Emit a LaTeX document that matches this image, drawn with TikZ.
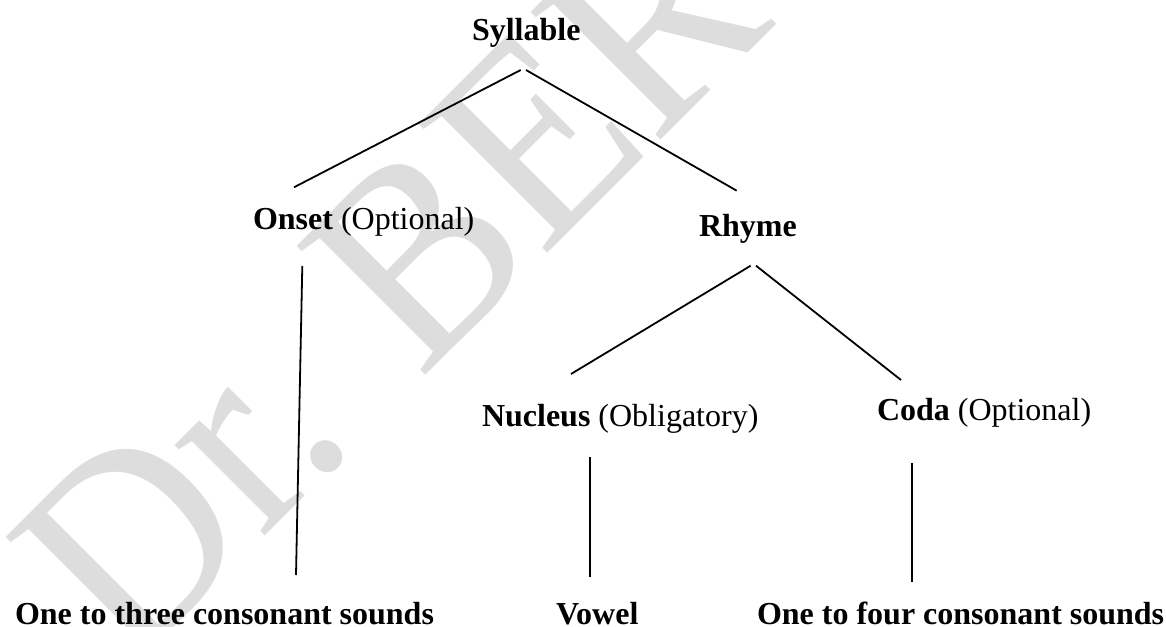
\documentclass[tikz,border=0pt]{standalone}
\usepackage{fontspec}
\setmainfont{Liberation Serif}
\definecolor{wmgray}{RGB}{221,221,221}
\begin{document}
\begin{tikzpicture}[x=1pt,y=1pt,
  label/.style={inner sep=0pt, outer sep=0pt, anchor=base west,
                font=\fontsize{32}{38}\selectfont},
  branch/.style={line width=1.8pt, black},
  watermark/.style={inner sep=0pt, anchor=base west, rotate=45, text=wmgray,
                font=\fontsize{278}{278}\selectfont}]
\useasboundingbox (0,0) rectangle (1166,-626);
\fill[white] (0,0) rectangle (1166,-626);

% background watermark
\node[watermark] (wm) at (129,-672) {\scalebox{0.935}[1]{Dr. BER}};

% tree labels
\node[label] (syl) at (472,-40.5) {\textbf{Syllable}};
\node[label] (ons) at (253,-229.3) {\textbf{Onset} (Optional)};
\node[label] (rhy) at (699,-236) {\textbf{Rhyme}};
\node[label] (nuc) at (482,-426) {\textbf{Nucleus} (Obligatory)};
\node[label] (cod) at (877,-420) {\textbf{Coda} (Optional)};
\node[label] (on3) at (15,-624) {\textbf{One to three consonant sounds}};
\node[label] (vow) at (556,-624) {\textbf{Vowel}};
\node[label] (on4) at (757,-624) {\textbf{One to four consonant sounds}};

% branch end points
\coordinate (syl-l) at (520.7,-70);
\coordinate (syl-r) at (526,-70);
\coordinate (ons-t) at (294,-187.3);
\coordinate (rhy-t) at (736.7,-190.7);
\coordinate (ons-b) at (302.3,-266);
\coordinate (on3-t) at (296,-575);
\coordinate (rhy-l) at (750.7,-265.7);
\coordinate (rhy-r) at (756,-265.7);
\coordinate (nuc-t) at (571,-374);
\coordinate (cod-t) at (901,-380);
\coordinate (nuc-b) at (590,-457);
\coordinate (vow-t) at (590,-577);
\coordinate (cod-b) at (912,-463);
\coordinate (on4-t) at (912,-582);

% branches
\draw[branch] (syl-l) -- (ons-t);
\draw[branch] (syl-r) -- (rhy-t);
\draw[branch] (ons-b) -- (on3-t);
\draw[branch] (rhy-l) -- (nuc-t);
\draw[branch] (rhy-r) -- (cod-t);
\draw[branch] (nuc-b) -- (vow-t);
\draw[branch] (cod-b) -- (on4-t);
\end{tikzpicture}
\end{document}
